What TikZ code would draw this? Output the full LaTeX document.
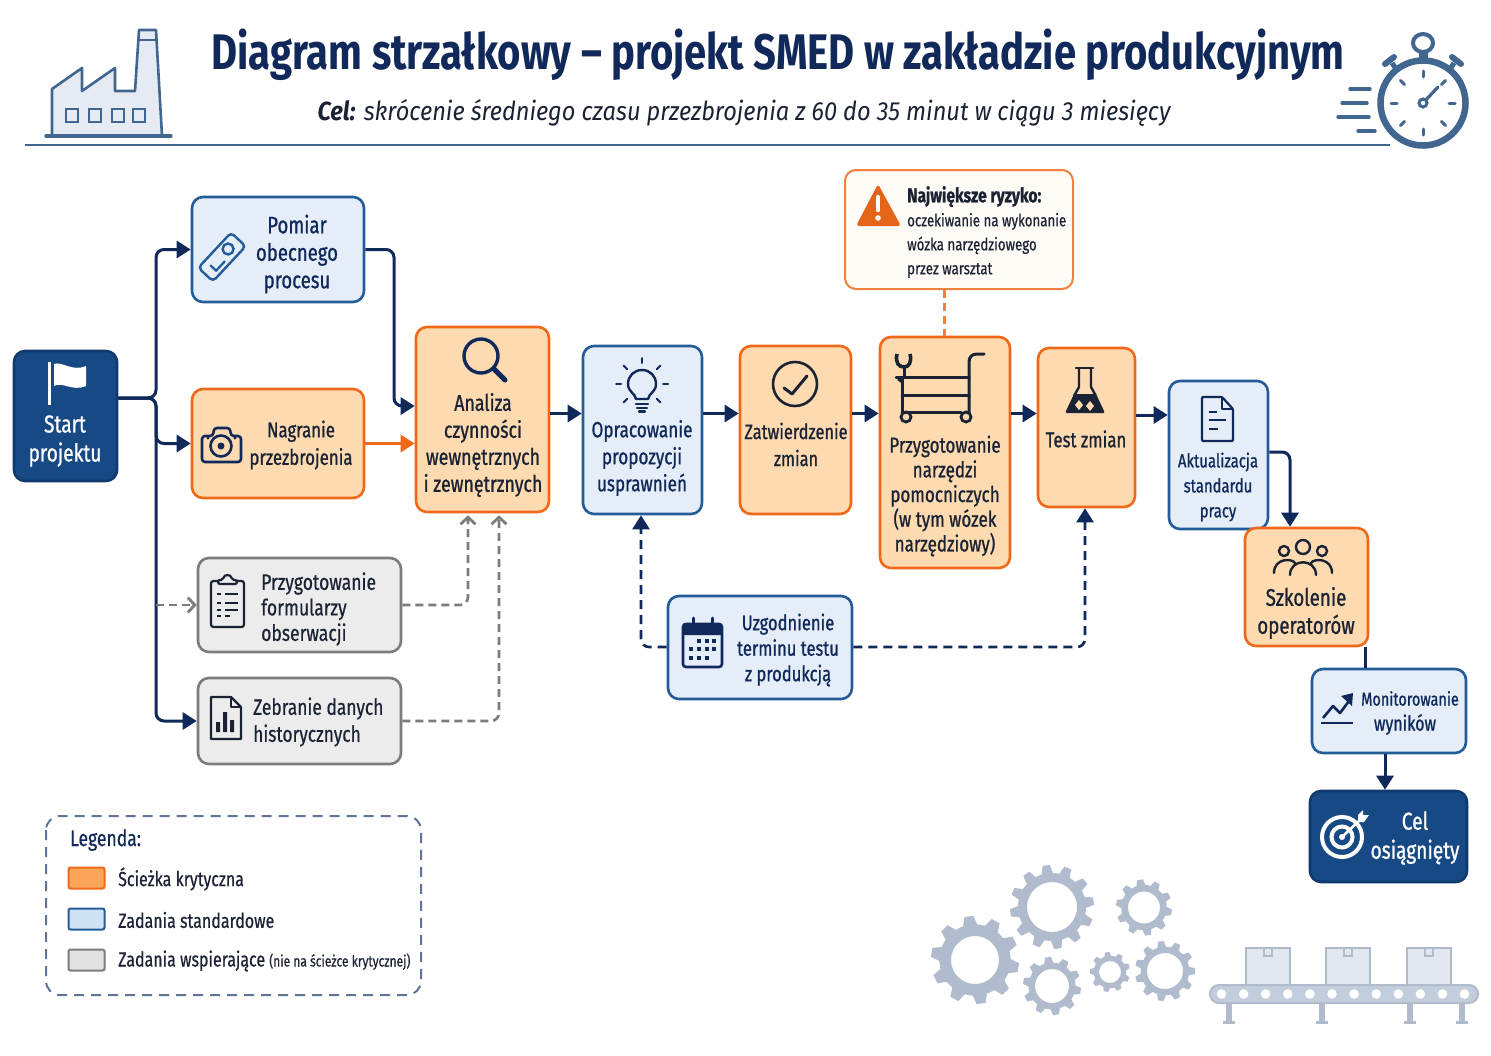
\documentclass[tikz,border=0pt]{standalone}
\usepackage{fontspec}
\setmainfont[FakeStretch=0.8]{Fira Sans}
\newfontfamily\cnd[FakeStretch=0.78,FakeBold=0.9]{Fira Sans}
\newfontfamily\cndl[FakeStretch=0.78,FakeBold=0.5]{Fira Sans}
\newfontfamily\ttlf[FakeStretch=0.8]{Fira Sans}
\newfontfamily\subf[FakeStretch=0.9]{Fira Sans}
\usetikzlibrary{arrows.meta,calc}
\definecolor{navy}{HTML}{10295A}
\definecolor{ink}{HTML}{1A2233}
\definecolor{blueB}{HTML}{235C98}
\definecolor{blueF}{HTML}{E5EEF8}
\definecolor{orB}{HTML}{F0691A}
\definecolor{orF}{HTML}{FDDAB0}
\definecolor{grB}{HTML}{7C7C7C}
\definecolor{grF}{HTML}{ECECEC}
\definecolor{darkF}{HTML}{174A85}
\definecolor{darkB}{HTML}{103A6E}
\definecolor{iconB}{HTML}{41668F}
\definecolor{iconF}{HTML}{E6EBF3}
\definecolor{gearC}{HTML}{B0BCCD}
\definecolor{beltF}{HTML}{C3CEDC}
\definecolor{boxF}{HTML}{E2E7EF}
\definecolor{boxL}{HTML}{AEBBCB}
\definecolor{legB}{HTML}{5F7496}
\definecolor{swO}{HTML}{FBA55A}
\definecolor{swB}{HTML}{CFE2F5}
\definecolor{swG}{HTML}{E2E2E2}
\tikzset{
  tx/.style 2 args={align=center,inner sep=0pt,text=ink,font=\cnd\fontsize{#1}{#2}\selectfont},
  txl/.style 2 args={align=left,inner sep=0pt,anchor=west,text=ink,font=\cndl\fontsize{#1}{#2}\selectfont},
  base/.style={rounded corners=11pt,line width=2.6pt,inner sep=0pt},
  stdbox/.style={base,draw=blueB,fill=blueF},
  critbox/.style={base,draw=orB,fill=orF},
  supbox/.style={base,draw=grB,fill=grF},
  endbox/.style={base,draw=darkB,fill=darkF},
  riskbox/.style={base,draw=orB!85,fill=orange!3,line width=2pt},
  flow/.style={draw=navy,line width=3pt,rounded corners=8pt,-{Triangle[length=14pt,width=17pt]}},
  flowdash/.style={flow,line width=2.6pt,dash pattern=on 9pt off 6pt},
  supflow/.style={draw=grB,line width=2.6pt,rounded corners=8pt,dash pattern=on 8pt off 5pt,-{Straight Barb[length=7pt,width=15pt,line width=2.8pt]}},
  icn/.style={line width=2.6pt,line cap=round,line join=round},
  swatch/.style={line width=2pt,rounded corners=2pt,minimum width=36pt,minimum height=21pt,inner sep=0pt},
}
\newcommand\mybox[6]{\node[#2,minimum width={#5-#3},minimum height={#6-#4}] (#1) at ({(#3+#5)/2},{(#4+#6)/2}) {};}
\newcommand\gearicon[5]{%
  \pgfmathsetmacro\rrg{#3*0.81}\pgfmathsetmacro\tw{1.5*\rrg/#5}\pgfmathsetmacro\st{360/#5}\pgfmathsetmacro\en{360-\st}%
  \begin{scope}[shift={(#1,#2)}]
  \fill[gearC,even odd rule] (0,0) circle[radius=\rrg] (0,0) circle[radius=#4];
  \foreach \a in {0,\st,...,\en}{\fill[gearC,rotate around={\a+8:(0,0)}] ({-1.35*\tw},{-\rrg+1}) -- ({-\tw*0.85},{-#3}) -- ({\tw*0.85},{-#3}) -- ({1.35*\tw},{-\rrg+1}) -- cycle;}
  \end{scope}
}
\begin{document}
\begin{tikzpicture}[x=1pt,y=-1pt]
\useasboundingbox (0,0) rectangle (1491,1055);
\fill[white] (0,0) rectangle (1491,1055);

% ---------- header
\node[inner sep=0pt,text=navy,font=\ttlf\bfseries\fontsize{50}{56}\selectfont] (title) at (778,55) {Diagram strzałkowy – projekt SMED w zakładzie produkcyjnym};
\node[inner sep=0pt,text=ink,font=\subf\itshape\fontsize{26.2}{30}\selectfont] (subtitle) at (744,113.5) {\textbf{Cel:} skrócenie średniego czasu przezbrojenia z 60 do 35 minut w ciągu 3 miesięcy};
\draw[iconB,line width=1.6pt] (25,145) -- (1390,145);
% factory
\draw[iconB,fill=iconF,line width=2.6pt,line join=round] (52,136) -- (52,89) -- (82,68) -- (82,91) -- (115,68) -- (115,91) -- (135,91) -- (139,30) -- (156,30) -- (162,136) -- cycle;
\draw[iconB,line width=2.4pt] (139,40) -- (156,40);
\draw[iconB,line width=3.4pt,line cap=round] (46,136) -- (171,136);
\foreach \x in {66,89,112,133}{\draw[iconB,line width=2.6pt] (\x,109) rectangle (\x+12,122);}
% stopwatch
\draw[iconB,line width=4pt] (1423,43) ellipse[x radius=10,y radius=9];
\draw[iconB,line width=9pt] (1423,52) -- (1423,62);
\draw[iconB,line width=5pt] (1392,63) -- (1396,69);
\draw[iconB,line width=5pt] (1454,63) -- (1450,69);
\draw[iconB,line width=6pt,line cap=round] (1385,64) -- (1394,57);
\draw[iconB,line width=6pt,line cap=round] (1461,64) -- (1452,57);
\draw[iconB,fill=white,line width=6.5pt] (1423,103) circle[radius=42.5];
\foreach \a in {0,45,...,315}{\draw[iconB,line width=3pt,line cap=round] ($(1423,103)+(\a:26)$) -- ($(1423,103)+(\a:32)$);}
\draw[iconB,line width=3.2pt,line cap=round] (1423,103) -- (1438,87);
\draw[iconB,fill=white,line width=3pt] (1423,103) circle[radius=4];
\foreach \xa/\xb/\yy in {1350/1370/89,1342/1367/103,1338/1369/117,1358/1375/131}{\draw[iconB,line width=3.4pt,line cap=round] (\xa,\yy) -- (\xb,\yy);}

% ---------- boxes
\mybox{start}{endbox}{14}{351}{117}{481}
\mybox{pomiar}{stdbox}{192}{197}{364}{302}
\mybox{nagranie}{critbox}{192}{389}{364}{498}
\mybox{formularze}{supbox}{198}{558}{401}{652}
\mybox{zebranie}{supbox}{198}{678}{401}{764}
\mybox{analiza}{critbox}{416}{327}{549}{512}
\mybox{opracowanie}{stdbox}{583}{346}{702}{514}
\mybox{zatwierdzenie}{critbox}{740}{346}{851}{514}
\mybox{narzedzia}{critbox}{880}{337}{1010}{568}
\mybox{test}{critbox}{1038}{348}{1135}{507}
\mybox{aktualizacja}{stdbox}{1169}{381}{1268}{529}
\mybox{szkolenie}{critbox}{1245}{528}{1368}{646}
\mybox{monitorowanie}{stdbox}{1312}{669}{1466}{753}
\mybox{cel}{endbox}{1310}{791}{1467}{882}
\mybox{ryzyko}{riskbox}{845}{170}{1073}{289}
\mybox{termin}{stdbox}{668}{596}{852}{699}

% ---------- labels
\node[tx={24.5}{29},text=white] (tStart) at (65,441) {Start\\projektu};
\node[tx={23.8}{27.5},text=navy] (tPomiar) at (297,254) {Pomiar\\obecnego\\procesu};
\node[tx={21.5}{27.5}] (tNagranie) at (301,445) {Nagranie\\przezbrojenia};
\node[txl={22.5}{25.5}] (tForm) at (261,609) {Przygotowanie\\formularzy\\obserwacji};
\node[txl={22.3}{27}] (tZeb) at (253,722) {Zebranie danych\\historycznych};
\node[tx={22.8}{27}] (tAnaliza) at (483,445) {Analiza\\czynności\\wewnętrznych\\i zewnętrznych};
\node[tx={22}{27},text=navy] (tOpr) at (642,458) {Opracowanie\\propozycji\\usprawnień};
\node[tx={21}{27}] (tZat) at (796,444.5) {Zatwierdzenie\\zmian};
\node[tx={21.8}{24.7}] (tNarz) at (945,496) {Przygotowanie\\narzędzi\\pomocniczych\\(w tym wózek\\narzędziowy)};
\node[tx={21.5}{25}] (tTest) at (1086,439) {Test zmian};
\node[tx={19}{25},text=navy] (tAkt) at (1218,487) {Aktualizacja\\standardu\\pracy};
\node[tx={24}{28}] (tSzk) at (1306,613) {Szkolenie\\operatorów};
\node[tx={18.5}{25},text=navy] (tMon) at (1410,713) {Monitorowanie\\{\fontsize{20.5}{25}\selectfont wyników}\hspace*{10pt}};
\node[tx={24.5}{29},text=white] (tCel) at (1415,838) {Cel\\osiągnięty};
\node[tx={21.2}{25.5},text=navy] (tTer) at (788,650) {Uzgodnienie\\terminu testu\\z produkcją};
\node[txl={17}{24}] (tRyz) at (907,232) {{\cnd\bfseries\fontsize{20}{24}\selectfont Największe ryzyko:}\\oczekiwanie na wykonanie\\wózka narzędziowego\\przez warsztat};

% ---------- connectors
\coordinate (jn) at (156,398);
\coordinate (rowA) at (0,413.5);
\coordinate (rowB) at (0,415);
\coordinate (kp) at (394,406);
\coordinate (aTop) at (0,406);
\coordinate (aDown) at (1290,452);
\coordinate (uzL) at (641,647);
\coordinate (uzR) at (1085,647);
\coordinate (supA) at (468,603);
\coordinate (supB) at (499,720);
\coordinate (xMid) at (1365,0);
\coordinate (xLow) at (1385,0);
\coordinate (xRisk) at (944,0);
\draw[flow] (start.east |- jn) -- (jn) |- (pomiar.west);
\draw[flow] (start.east |- jn) -- (jn) |- (nagranie.west);
\draw[flow] (start.east |- jn) -- (jn) |- (zebranie.west);
\draw[supflow] (jn |- formularze.west) -- (formularze.west);
\draw[flow] (pomiar.east) -| (kp) -- (analiza.west |- aTop);
\draw[draw=orB,line width=3pt,-{Triangle[length=14pt,width=17pt]}] (nagranie.east) -- (analiza.west |- nagranie.east);
\draw[supflow] (formularze.east) -| ($(supA |- analiza.south)+(0,2)$);
\draw[supflow] (zebranie.east) -| ($(supB |- analiza.south)+(0,2)$);
\draw[flow] (analiza.east |- rowA) -- (opracowanie.west |- rowA);
\draw[flow] (opracowanie.east |- rowA) -- (zatwierdzenie.west |- rowA);
\draw[flow] (zatwierdzenie.east |- rowA) -- (narzedzia.west |- rowA);
\draw[flow] (narzedzia.east |- rowA) -- (test.west |- rowA);
\draw[flow] (test.east |- rowB) -- (aktualizacja.west |- rowB);
\draw[flow] (aktualizacja.east |- aDown) -| (aDown |- szkolenie.north);
\draw[navy,line width=3pt] (xMid |- szkolenie.south) -- (xMid |- monitorowanie.north);
\draw[flow] (xLow |- monitorowanie.south) -- (xLow |- cel.north);
\draw[flowdash] (termin.west |- uzL) -| (uzL |- opracowanie.south);
\draw[flowdash] (termin.east |- uzR) -| (uzR |- test.south);
\draw[orB!85,line width=3pt,dash pattern=on 8pt off 5pt] (xRisk |- ryzyko.south) -- (xRisk |- narzedzia.north);

% ---------- icons
% flag
\draw[white,line width=3pt] (49,362) -- (49,405);
\fill[white] (54,364) .. controls (62,361) and (72,372) .. (86,366) -- (86,386) .. controls (72,392) and (62,381) .. (54,386) -- cycle;
% ruler
\begin{scope}[rotate around={47:(222,257)}]
  \draw[blueB,line width=2.4pt,rounded corners=4pt] (198,247) rectangle (246,267);
  \draw[blueB,line width=2.4pt] (232,256) circle[radius=5.5];
  \draw[blueB,line width=2.2pt] (208,254) -- (208,262) -- (221,262);
\end{scope}
% camera
\draw[navy,icn,rounded corners=3pt] (202,436) -- (213,436) -- (214,428) -- (230,428) -- (231,436) -- (241,436) -- (241,462) -- (202,462) -- cycle;
\draw[navy,line width=2.6pt] (221,446) circle[radius=10.5];
\fill[navy] (221,446) circle[radius=3.5];
\fill[navy] (208,438) circle[radius=1.6] (235,438) circle[radius=1.6];
% clipboard
\draw[ink,line width=2.2pt,rounded corners=2.5pt] (211,581) rectangle (244,627);
\draw[ink,fill=grF,line width=2.2pt,rounded corners=2pt] (218,584) -- (218,580) -- (223,580) .. controls (224,574) and (231,574) .. (232,580) -- (237,580) -- (237,584) -- cycle;
\foreach \yy/\xe in {594/238,603/238,610/238,616/230}{\draw[ink,line width=2pt] (217,\yy) -- (221,\yy); \draw[ink,line width=1.8pt] (225,\yy) -- (\xe,\yy);}
% doc with bars
\draw[ink,line width=2.2pt,line join=round] (211,697) -- (231,697) -- (241,707) -- (241,739) -- (211,739) -- cycle;
\draw[ink,line width=2.2pt,line join=round] (231,697) -- (231,707) -- (241,707);
\fill[ink] (216,722) rectangle (220,732) (223,712) rectangle (227,732) (230,720) rectangle (234,732);
% magnifier
\draw[navy,line width=3.4pt] (481,356) circle[radius=17];
\draw[navy,line width=5pt,line cap=round] (494,369) -- (505,380);
% bulb
\draw[navy,line width=2.4pt,line join=round] (636,399) .. controls (635,393) and (628,392) .. (628,384) .. controls (628,376) and (634,370) .. (642,370) .. controls (650,370) and (656,376) .. (656,384) .. controls (656,392) and (649,393) .. (648,399) -- cycle;
\draw[navy,line width=2.2pt,line cap=round] (636,404) -- (648,404) (637,408) -- (647,408) (639,411.5) -- (645,411.5);
\foreach \a in {0,-45,-90,-135,180,45,135}{\draw[navy,line width=2pt,line cap=round] ($(642,384)+(\a:21)$) -- ($(642,384)+(\a:26)$);}
% check
\draw[ink,line width=2.6pt] (795,384) circle[radius=22];
\draw[ink,line width=3pt,line cap=round,line join=round] (784,388) -- (792,394) -- (807,376);
% cart
\draw[ink,line width=3pt,line cap=round] (896,377) -- (969,377) (902,395) -- (969,395) (902,412) -- (961,412);
\draw[ink,line width=3pt] (902,377) -- (902,414);
\draw[ink,line width=3pt,line cap=round] (969,412) -- (969,362) .. controls (969,357) and (972,354) .. (977,354) -- (984,354);
\draw[ink,line width=2.8pt] (906,417) circle[radius=5] (966,417) circle[radius=5];
\draw[ink,line width=3.6pt] (897,354) .. controls (895,363) and (899,367) .. (904,367) .. controls (909,367) and (912,362) .. (910,354);
\draw[ink,line width=3pt] (904,367) -- (904,377);
\draw[ink,line width=2.6pt] (898,379) -- (902,382);
% flask
\draw[ink,line width=2.6pt,line cap=round] (1076,368) -- (1093,368);
\draw[ink,line width=2.4pt,line join=round] (1079,368) -- (1079,387) -- (1074,396) (1091,368) -- (1091,387) -- (1096,396);
\fill[ink,rounded corners=2pt] (1074,394) -- (1096,394) -- (1105,413) -- (1065,413) -- cycle;
\fill[orF] (1079,400) -- (1083,405) -- (1079,410) -- (1075,405) -- cycle (1090,401) -- (1094,406) -- (1090,411) -- (1086,406) -- cycle;
% document
\draw[navy,line width=2.2pt,line join=round,rounded corners=1pt] (1202,397) -- (1222,397) -- (1233,409) -- (1233,441) -- (1202,441) -- cycle;
\draw[navy,line width=2pt,line join=round] (1222,397) -- (1222,409) -- (1233,409);
\draw[navy,line width=2pt] (1209,412) -- (1217,412) (1209,420) -- (1226,420) (1209,429) -- (1218,429);
% people
\draw[ink,line width=2.4pt] (1303,547) circle[radius=7] (1284,551) circle[radius=5] (1322,551) circle[radius=5];
\draw[ink,line width=2.4pt,line cap=round] (1290,575) .. controls (1290,558) and (1316,558) .. (1316,575);
\draw[ink,line width=2.4pt,line cap=round] (1274,573) .. controls (1274,558) and (1292,558) .. (1295,563);
\draw[ink,line width=2.4pt,line cap=round] (1332,573) .. controls (1332,558) and (1314,558) .. (1311,563);
% chart
\draw[navy,line width=2.6pt,line join=round] (1323,718) -- (1333,706) -- (1340,713) -- (1349,701);
\fill[navy] (1353,693) -- (1341,696) -- (1352,706) -- cycle;
\draw[navy,line width=2.2pt] (1321,723) -- (1353,723);
% target
\draw[white,line width=4pt] (1342,837) circle[radius=20] (1342,837) circle[radius=10.5];
\fill[white] (1342,837) circle[radius=3];
\draw[white,line width=2.6pt] (1342,837) -- (1361,819);
\fill[white] (1358,815) -- (1363,810) -- (1363,815) -- (1369,815) -- (1364,822) -- (1358,822) -- cycle;
% warning
\fill[orB!95!black,rounded corners=3pt] (878,184) -- (901,226) -- (856,226) -- cycle;
\draw[white,line width=4.4pt,line cap=round] (878,197) -- (878,210);
\fill[white] (878,218) circle[radius=2.8];
% calendar
\draw[navy,line width=2.6pt,rounded corners=3pt] (683,624) rectangle (722,667);
\fill[navy,rounded corners=2pt] (683,623) rectangle (722,635);
\draw[navy,line width=3pt,line cap=round] (693,618) -- (693,626) (712,618) -- (712,626);
\foreach \xx in {699,707,714}{\fill[navy] (\xx-2,639) rectangle (\xx+2,643);}
\foreach \xx in {691,699,707,714}{\fill[navy] (\xx-2,647) rectangle (\xx+2,651);}
\foreach \xx in {691,699,707}{\fill[navy] (\xx-2,656) rectangle (\xx+2,660);}

% ---------- legend
\draw[legB,line width=2pt,dash pattern=on 10pt off 7pt,rounded corners=14pt] (46,816) rectangle (421,995);
\node[txl={22.5}{24},text=navy] (lHead) at (70,840) {Legenda:};
\node[swatch,draw=orB,fill=swO] (lsA) at (86.5,878) {};
\node[swatch,draw=blueB,fill=swB] (lsB) at (86.5,919) {};
\node[swatch,draw=grB,fill=swG] (lsC) at (86.5,960) {};
\node[txl={20.5}{22}] (lA) at (118,879) {Ścieżka krytyczna};
\node[txl={20.5}{22}] (lB) at (118,920) {Zadania standardowe};
\node[txl={20.5}{22}] (lC) at (118,961) {Zadania wspierające {\fontsize{15.4}{18}\selectfont(nie na ścieżce krytycznej)}};

% ---------- gears
\gearicon{975}{960}{44}{24}{10}
\gearicon{1052}{907}{42}{25}{12}
\gearicon{1144}{907.5}{28}{16}{10}
\gearicon{1052}{986}{29}{17}{10}
\gearicon{1110}{972}{20}{11}{9}
\gearicon{1165}{971}{30}{18}{11}
% conveyor
\foreach \xx in {1246,1326,1407}{
  \draw[boxL,fill=boxF,line width=1.6pt] (\xx,948) rectangle (\xx+44,985);
  \draw[boxL,line width=1.6pt] (\xx+18,948) -- (\xx+18,956) -- (\xx+26,956) -- (\xx+26,948);
}
\foreach \xx in {1229,1322,1410,1461.5}{
  \fill[gearC] (\xx-3,1001) rectangle (\xx+3,1022);
  \fill[gearC] (\xx-6,1021) rectangle (\xx+6,1024);
}
\draw[gearC,fill=beltF,line width=2pt,rounded corners=9pt] (1210,985) rectangle (1478,1003);
\foreach \i in {0,...,11}{\fill[white] ({1221.5+22.1*\i},994) circle[radius=4.8];}
\end{tikzpicture}
\end{document}
